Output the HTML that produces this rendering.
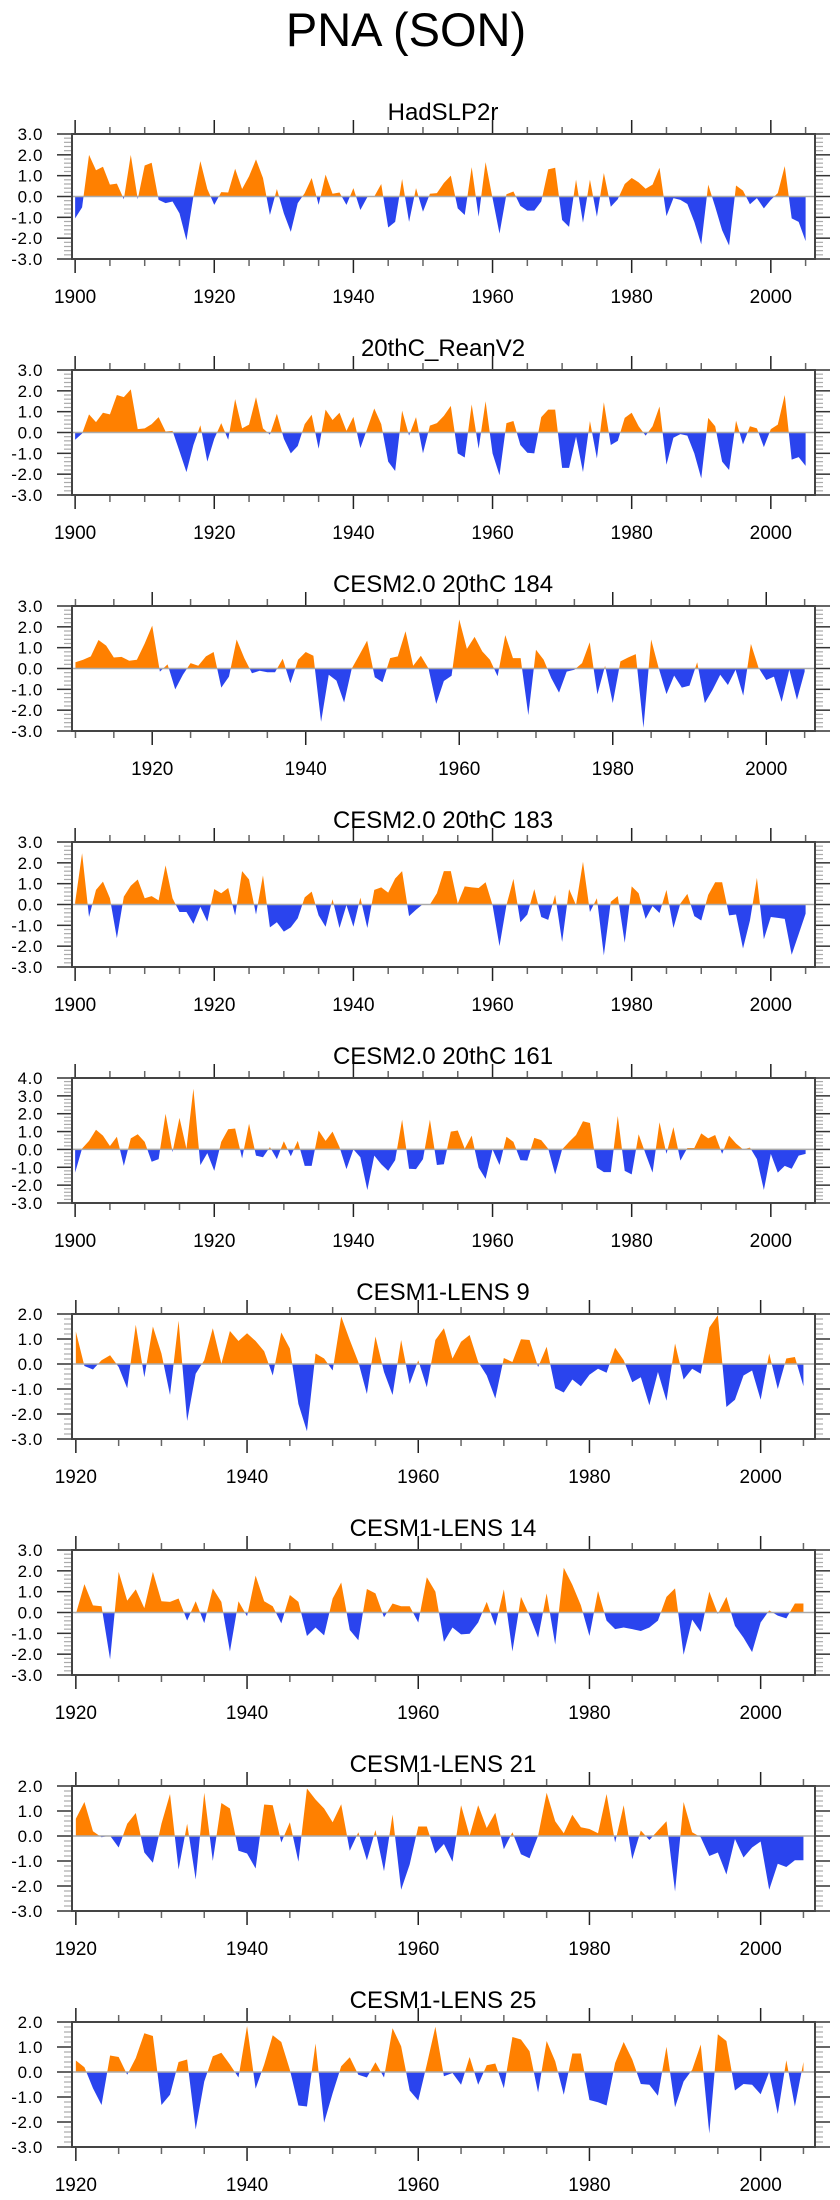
<!DOCTYPE html>
<html><head><meta charset="utf-8"><title>PNA (SON)</title>
<style>
html,body{margin:0;padding:0;background:#fff;}
svg{display:block;}
text{font-family:"Liberation Sans",Arial,sans-serif;fill:#000;}
</style></head>
<body>
<svg id="chart" width="840" height="2200" viewBox="0 0 840 2200" xmlns="http://www.w3.org/2000/svg">
<text x="406" y="46" font-size="47" text-anchor="middle">PNA (SON)</text>
</svg>
<script>
const panelTitles = ["HadSLP2r","20thC_ReanV2","CESM2.0 20thC 184","CESM2.0 20thC 183","CESM2.0 20thC 161","CESM1-LENS 9","CESM1-LENS 14","CESM1-LENS 21","CESM1-LENS 25"];
const startYears = [1900,1900,1910,1900,1900,1920,1920,1920,1920];
const yMax = [3,3,3,3,4,2,3,2,2];
const yMin = [-3,-3,-3,-3,-3,-3,-3,-3,-3];
const hadslp2r = [-1.05,-0.52,2.0,1.26,1.43,0.57,0.62,-0.13,2.0,-0.13,1.49,1.62,-0.16,-0.32,-0.24,-0.81,-2.1,0,1.7,0.36,-0.4,0.21,0.19,1.33,0.36,0.97,1.78,0.89,-0.89,0.36,-0.81,-1.7,-0.32,0.16,0.89,-0.4,1.05,0.13,0.19,-0.4,0.4,-0.65,-0.03,0,0.6,-1.49,-1.22,0.84,-1.22,0.4,-0.73,0.13,0.16,0.65,1.0,-0.57,-0.89,1.41,-0.97,1.65,-0.08,-1.78,0.11,0.24,-0.45,-0.68,-0.68,-0.24,1.3,1.38,-1.13,-1.46,0.81,-1.26,0.81,-0.97,1.13,-0.49,-0.13,0.6,0.89,0.68,0.37,0.57,1.38,-0.94,-0.08,-0.16,-0.36,-1.22,-2.3,0.57,-0.49,-1.62,-2.35,0.53,0.28,-0.37,-0.08,-0.57,-0.16,0.16,1.46,-1.05,-1.22,-2.14];
const reanV2 = [-0.35,-0.05,0.87,0.5,0.95,0.87,1.8,1.7,2.07,0.16,0.2,0.4,0.74,0.05,0.08,-0.9,-1.9,-0.6,0.35,-1.4,-0.3,0.45,-0.35,1.6,0.2,0.38,1.7,0.2,-0.1,0.9,-0.3,-1.0,-0.65,0.4,0.85,-0.78,1.1,0.6,0.95,0.08,0.75,-0.75,0.2,1.15,0.4,-1.4,-1.85,1.05,-0.15,0.74,-1.0,0.33,0.45,0.8,1.28,-1.0,-1.2,1.35,-0.78,1.5,-1.0,-2.05,0.45,0.55,-0.6,-0.97,-1.0,0.74,1.1,1.1,-1.7,-1.7,-0.2,-1.9,0.55,-1.25,1.45,-0.6,-0.4,0.7,0.95,0.3,-0.15,0.3,1.25,-1.55,-0.25,-0.08,-0.15,-1.0,-2.2,0.7,0.3,-1.4,-1.8,0.57,-0.57,0.3,0.2,-0.7,0.16,0.38,1.8,-1.3,-1.18,-1.6];
const cesm2_184 = [0.3,0.42,0.58,1.37,1.1,0.53,0.56,0.37,0.42,1.18,2.06,-0.15,0.2,-1.0,-0.3,0.26,0.13,0.58,0.79,-0.92,-0.39,1.39,0.5,-0.23,-0.11,-0.18,-0.18,0.47,-0.71,0.42,0.79,0.61,-2.56,-0.3,-0.58,-1.63,0,0.66,1.34,-0.42,-0.66,0.5,0.58,1.79,0.13,0.61,0,-1.7,-0.6,-0.35,2.35,0.94,1.52,0.82,0.42,-0.37,1.6,0.5,0.5,-2.24,0.9,0.42,-0.47,-1.16,-0.15,-0.06,0.26,1.26,-1.24,0.13,-1.66,0.34,0.53,0.69,-2.85,1.39,0,-1.23,-0.34,-0.92,-0.82,0.3,-1.66,-1.03,-0.3,-0.79,-0.06,-1.3,1.18,0.03,-0.55,-0.39,-1.6,-0.06,-1.5,-0.15];
const cesm2_183 = [0.1,2.46,-0.6,0.7,1.1,0.3,-1.62,0.38,0.9,1.2,0.3,0.4,0.2,1.88,0.3,-0.36,-0.36,-0.93,-0.11,-0.82,0.74,0.54,0.79,-0.52,1.6,1.2,-0.48,1.4,-1.1,-0.85,-1.3,-1.1,-0.66,0.34,0.62,-0.52,-1.07,0.25,-1.13,-0.03,-1.07,0.33,-1.13,0.7,0.82,0.57,1.25,1.6,-0.56,-0.25,0.02,0,0.54,1.6,1.6,0.05,0.87,0.82,0.79,1.07,-0.03,-2.0,-0.03,1.23,-0.85,-0.48,0.74,-0.6,-0.74,0.46,-1.8,0.74,-0.03,2.05,-0.36,0.3,-2.44,0.13,0.4,-1.84,0.87,0.54,-0.69,-0.08,-0.41,0.7,-1.13,0.05,0.51,-0.56,-0.77,0.46,1.07,1.07,-0.52,-0.48,-2.11,-0.77,1.28,-1.67,-0.6,-0.64,-0.69,-2.41,-1.43,-0.44];
const cesm2_161 = [-1.3,0.05,0.48,1.1,0.77,0.19,0.71,-0.92,0.62,0.85,0.42,-0.69,-0.54,2.0,-0.15,1.77,0.04,3.4,-0.88,-0.21,-1.2,0.42,1.13,1.17,-0.5,1.44,-0.35,-0.44,0.13,-0.54,0.46,-0.38,0.48,-0.92,-0.92,1.06,0.48,1.0,0.13,-1.1,0,-0.44,-2.27,-0.35,-0.83,-1.2,-0.6,1.67,-1.08,-1.1,-0.54,1.67,-0.87,-0.83,1.0,1.06,0.04,0.77,-1.02,-1.65,0,-0.87,0.71,0.42,-0.6,-0.63,0.65,0.52,0.04,-1.4,0,0.42,0.81,1.58,1.48,-1.02,-1.27,-1.27,1.87,-1.2,-1.4,0.85,-0.25,-1.3,1.52,-0.25,1.25,-0.63,0.08,0.08,0.9,0.62,0.81,-0.25,0.77,0.33,0,0.1,-0.54,-2.27,-0.25,-1.3,-0.92,-1.08,-0.35,-0.25];
const lens9 = [1.3,-0.08,-0.22,0.15,0.35,-0.12,-0.97,1.57,-0.53,1.5,0.42,-1.24,1.73,-2.28,-0.39,0.15,1.43,0.01,1.32,0.92,1.23,0.92,0.51,-0.46,1.26,0.62,-1.6,-2.69,0.42,0.22,-0.26,1.9,0.96,0.08,-1.2,1.1,-0.32,-1.24,0.96,-0.8,0.15,-0.93,0.96,1.43,0.22,0.89,1.16,0.08,-0.46,-1.38,0.24,0.08,0.99,0.96,-0.12,0.69,-0.97,-1.14,-0.62,-0.89,-0.43,-0.19,-0.35,0.65,0.15,-0.73,-0.53,-1.65,-0.32,-1.47,0.82,-0.62,-0.19,-0.39,1.46,1.95,-1.72,-1.43,-0.46,-0.26,-1.43,0.42,-1.0,0.22,0.28,-0.89];
const lens14 = [-0.07,1.36,0.34,0.3,-2.25,1.95,0.57,1.11,0.21,1.95,0.54,0.51,0.67,-0.39,0.54,-0.51,1.16,0.51,-1.87,0.54,-0.18,1.77,0.54,0.3,-0.52,0.84,0.51,-1.13,-0.72,-1.1,0.67,1.44,-0.84,-1.33,1.13,0.92,-0.23,0.43,0.3,0.3,-0.48,1.69,1.0,-1.41,-0.72,-1.05,-1.02,-0.48,0.51,-0.64,1.11,-1.87,0.75,-0.15,-1.21,0.92,-1.54,2.15,1.33,0.34,-1.13,1.03,-0.39,-0.8,-0.72,-0.8,-0.89,-0.72,-0.39,0.75,1.16,-2.03,-0.34,-0.93,1.0,-0.07,0.75,-0.64,-1.21,-1.9,-0.48,0.1,-0.15,-0.28,0.43,0.43];
const lens21 = [0.69,1.36,0.19,-0.05,0.01,-0.46,0.49,0.92,-0.66,-1.07,0.49,1.68,-1.34,0.49,-1.74,1.73,-1.0,1.32,1.1,-0.59,-0.7,-1.3,1.26,1.23,-0.26,0.55,-1.03,1.9,1.46,1.1,0.55,1.27,-0.59,0.15,-0.97,0.24,-1.41,0.86,-2.15,-1.14,0.38,0.38,-0.7,-0.32,-1.03,1.23,0.01,1.23,0.32,0.93,-0.53,0.15,-0.73,-0.89,0.01,1.73,0.59,0.11,0.85,0.35,0.28,0.11,1.68,-0.26,1.23,-0.93,0.22,-0.16,0.22,0.59,-2.22,1.36,0.15,-0.05,-0.8,-0.66,-1.54,-0.12,-0.86,-0.46,-0.22,-2.15,-1.11,-1.24,-0.97,-0.97];
const lens25 = [0.46,0.19,-0.65,-1.32,0.66,0.6,-0.11,0.56,1.55,1.44,-1.32,-0.91,0.4,0.5,-2.3,-0.38,0.63,0.77,0.3,-0.22,1.84,-0.67,0.3,1.47,1.2,0.09,-1.34,-1.38,1.14,-2.03,-0.85,0.23,0.59,-0.11,-0.22,0.39,-0.22,1.75,1.03,-0.74,-1.14,0.3,1.81,-0.17,-0.04,-0.51,0.6,-0.51,0.27,0.34,-0.65,1.4,1.3,0.83,-0.82,1.24,0.43,-0.91,0.74,0.74,-1.12,-1.21,-1.34,0.36,1.2,0.5,-0.48,-0.51,-0.95,1.01,-1.41,-0.38,0.09,1.1,-2.46,1.51,1.24,-0.74,-0.48,-0.51,-0.89,0,-1.68,0.47,-1.38,0.4];
const seriesList = [hadslp2r,reanV2,cesm2_184,cesm2_183,cesm2_161,lens9,lens14,lens21,lens25];

const NS = "http://www.w3.org/2000/svg";
const svg = document.getElementById("chart");
const BOX_L = 72, BOX_R = 815, BOX_H = 125, TOP0 = 134, STEP = 236;
const X_END = 2006.35;
function mk(tag, attrs, parent) {
  const e = document.createElementNS(NS, tag);
  for (const k in attrs) e.setAttribute(k, attrs[k]);
  (parent || svg).appendChild(e);
  return e;
}
function f(n){return n.toFixed(2);}

seriesList.forEach((vals, p) => {
  const top = TOP0 + STEP * p, bot = top + BOX_H;
  const x0 = startYears[p] - 0.45;
  const xs = yr => BOX_L + (yr - x0) / (X_END - x0) * (BOX_R - BOX_L);
  const ys = v => bot - (v - yMin[p]) / (yMax[p] - yMin[p]) * BOX_H;
  const g = mk("g", {});
  
  

  const title = mk("text", {x: 443, y: top - 14, "font-size": 24, "text-anchor": "middle"}, g);
  title.textContent = panelTitles[p];
  
  

  // fills
  const zy = ys(0);
  const pts = [];
  for (let i = 0; i < vals.length; i++) {
    const yr = startYears[p] + i;
    pts.push([yr, vals[i]]);
    if (i < vals.length - 1) {
      const a = vals[i], b = vals[i + 1];
      if ((a > 0 && b < 0) || (a < 0 && b > 0)) pts.push([yr + a / (a - b), 0]);
    }
  }
  let posD = "M" + f(xs(pts[0][0])) + "," + f(zy);
  let negD = posD;
  pts.forEach(q => {
    posD += " L" + f(xs(q[0])) + "," + f(ys(Math.max(q[1], 0)));
    negD += " L" + f(xs(q[0])) + "," + f(ys(Math.min(q[1], 0)));
  });
  const endX = f(xs(pts[pts.length - 1][0]));
  posD += " L" + endX + "," + f(zy) + " Z";
  negD += " L" + endX + "," + f(zy) + " Z";
  const pos = mk("path", {d: posD, fill: "#ff8000", stroke: "none"}, g);
  
  
  const neg = mk("path", {d: negD, fill: "#2a44ee", stroke: "none"}, g);
  
  

  const zl = mk("line", {x1: BOX_L, x2: BOX_R, y1: zy, y2: zy, stroke: "#aaaaaa", "stroke-width": 1.5}, g);
  
  

  // y ticks
  for (let k = Math.round(yMin[p] * 5); k <= Math.round(yMax[p] * 5); k++) {
    const v = k / 5, y = ys(v);
    const major = k % 5 === 0;
    const len = major ? 15 : 8, col = major ? "#333" : "#aaa", w = major ? 1.5 : 1.2;
    mk("line", {x1: BOX_L - len, x2: BOX_L, y1: y, y2: y, stroke: col, "stroke-width": w}, g);
    mk("line", {x1: BOX_R, x2: BOX_R + len, y1: y, y2: y, stroke: col, "stroke-width": w}, g);
    if (major) {
      const t = mk("text", {x: 43, y: y + 6, "font-size": 17, "text-anchor": "end", "letter-spacing": "0.6"}, g);
      t.textContent = v.toFixed(1);
      
      
    }
  }
  // x ticks
  const firstTick = Math.ceil(startYears[p] / 5) * 5;
  for (let yr = firstTick; yr <= 2005; yr += 5) {
    const x = xs(yr);
    const major = yr % 20 === 0;
    const len = major ? 14 : 7, col = major ? "#222" : "#666";
    mk("line", {x1: x, x2: x, y1: top - len, y2: top, stroke: col, "stroke-width": 1.5}, g);
    mk("line", {x1: x, x2: x, y1: bot, y2: bot + len, stroke: col, "stroke-width": 1.5}, g);
    if (major) {
      const t = mk("text", {x: x, y: bot + 44, "font-size": 19, "text-anchor": "middle"}, g);
      t.textContent = yr;
      
      
    }
  }
  const box = mk("rect", {x: BOX_L, y: top, width: BOX_R - BOX_L, height: BOX_H, fill: "none", stroke: "#444", "stroke-width": 2}, g);
  
  
});
</script>
</body></html>
